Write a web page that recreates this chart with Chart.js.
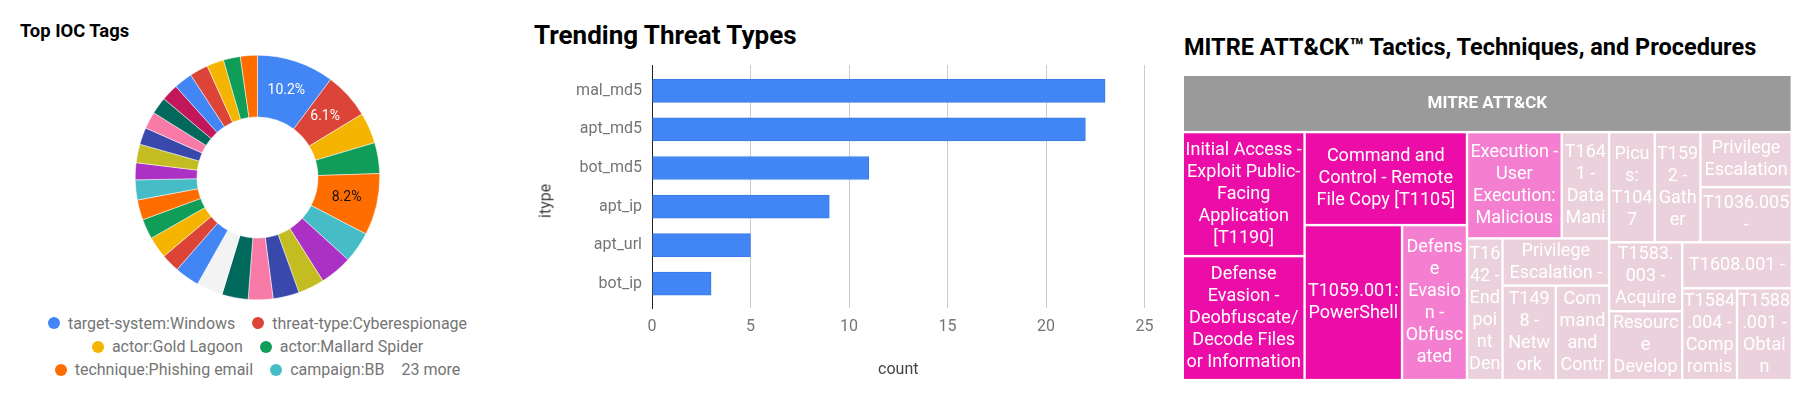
<!DOCTYPE html>
<html>
<head>
<meta charset="utf-8">
<script src="https://cdn.jsdelivr.net/npm/chart.js@4.4.1/dist/chart.umd.min.js"></script>
<style>
  html, body { margin: 0; padding: 0; background: #fff; width: 1809px; height: 399px; overflow: hidden; font-family: Roboto, "Noto Sans", sans-serif; }
  canvas { position: absolute; }
  .title { position: absolute; font-family: Roboto, sans-serif; font-weight: bold; color: #000; white-space: nowrap; line-height: 1; }
  #legend { position: absolute; left: 42.5px; top: 311.7px; width: 430px; display: flex; flex-wrap: wrap; justify-content: center; column-gap: 17px; font: 16px Roboto, sans-serif; color: #757575; }
  .li { display: flex; align-items: center; height: 23.3px; white-space: nowrap; }
  .dot { width: 12px; height: 12px; border-radius: 50%; margin-right: 8px; }
  #itype { position: absolute; left: 544.5px; top: 201px; transform: translate(-50%, -50%) rotate(-90deg); font: 16px Roboto, sans-serif; color: #444; white-space: nowrap; }
</style>
</head>
<body>
<div class="title" id="t1" style="left:20px; top:21.8px; font-size:18.4px;">Top IOC Tags</div>
<div class="title" id="t2" style="left:534px; top:22.4px; font-size:26px;">Trending Threat Types</div>
<div class="title" id="t3" style="left:1184px; top:36.3px; font-size:23.5px;">MITRE ATT&amp;CK™ Tactics, Techniques, and Procedures</div>
<canvas id="donut" width="245" height="245" style="left:135px; top:55px; width:245px; height:245px;"></canvas>
<div id="legend"></div>
<canvas id="bars" width="650" height="399" style="left:520px; top:0px; width:650px; height:399px;"></canvas>
<div id="itype">itype</div>
<canvas id="tree" width="620" height="320" style="left:1180px; top:70px; width:620px; height:320px;"></canvas>

<script>
// ---------------- DATA ----------------
const iocTags = [
  'target-system:Windows', 'threat-type:Cyberespionage', 'actor:Gold Lagoon', 'actor:Mallard Spider',
  'technique:Phishing email', 'campaign:BB', 'tag 7', 'tag 8', 'tag 9', 'tag 10', 'tag 11', 'tag 12',
  'tag 13', 'tag 14', 'tag 15', 'tag 16', 'tag 17', 'tag 18', 'tag 19', 'tag 20', 'tag 21', 'tag 22',
  'tag 23', 'tag 24', 'tag 25', 'tag 26', 'tag 27', 'tag 28', 'tag 29'
];
const iocCounts = [50, 30, 20, 20, 40, 20, 21, 17, 17, 16, 17, 17, 16, 12, 14, 13, 13, 13, 11, 12, 11, 11, 11, 11, 12, 12, 11, 11, 11];
const iocColors = [
  '#4285f4', '#db4437', '#f4b400', '#0f9d58', '#ff6d00', '#46bdc6', '#ab30c4', '#c4bd22', '#3949ab', '#f77ba6',
  '#00695c', '#f3f3f3', '#4285f4', '#db4437', '#f4b400', '#0f9d58', '#ff6d00', '#46bdc6', '#ab30c4', '#c4bd22',
  '#3949ab', '#f77ba6', '#00695c', '#c2185b', '#4285f4', '#db4437', '#f4b400', '#0f9d58', '#ff6d00'
];
const legendShown = 6;

const threatTypes = ['mal_md5', 'apt_md5', 'bot_md5', 'apt_ip', 'apt_url', 'bot_ip'];
const threatCounts = [23, 22, 11, 9, 5, 3];
const countTicks = { min: 0, max: 25, step: 5 };

const ttpRoot = 'MITRE ATT&CK';
const ttpLabels = [
  'Initial Access - Exploit Public-Facing Application [T1190]',
  'Defense Evasion - Deobfuscate/Decode Files or Information [T1140]',
  'Command and Control - Remote File Copy [T1105]',
  'T1059.001: PowerShell',
  'Defense Evasion - Obfuscated Files or Information [T1027]',
  'Execution - User Execution: Malicious File [T1204.002]',
  'T1641 - Data Manipulation',
  'T1642 - Endpoint Denial of Service',
  'Privilege Escalation - Valid Accounts [T1078]',
  'T1498 - Network Denial of Service',
  'Command and Control - Application Layer Protocol [T1071]',
  'Picus: T1047',
  'T1592 - Gather Victim Host Information',
  'Privilege Escalation - Process Injection [T1055]',
  'T1036.005 - Masquerading: Match Legitimate Name or Location',
  'T1583.003 - Acquire Infrastructure: Virtual Private Server',
  'Resource Development - Acquire Infrastructure [T1583]',
  'T1608.001 - Upload Malware',
  'T1584.004 - Compromise Infrastructure: Server',
  'T1588.001 - Obtain Capabilities: Malware'
];
const ttpValues = [3, 3, 3, 3, 2, 2, 1, 1, 1, 1, 1, 1, 1, 1, 1, 1, 1, 1, 1, 1];

// ---------------- STYLE ----------------
const FONT = 'Roboto';
Chart.defaults.font.family = FONT;
Chart.defaults.animation = false;

// ---------------- DONUT ----------------
function luminance(hex) {
  const n = parseInt(hex.slice(1), 16);
  const c = [(n >> 16) & 255, (n >> 8) & 255, n & 255].map(v => { v /= 255; return v <= 0.03928 ? v / 12.92 : Math.pow((v + 0.055) / 1.055, 2.4); });
  return 0.2126 * c[0] + 0.7152 * c[1] + 0.0722 * c[2];
}
const donutLabels = {
  id: 'donutLabels',
  afterDatasetsDraw(chart) {
    const ctx = chart.ctx;
    const ds = chart.data.datasets[0];
    const total = ds.data.reduce((a, b) => a + b, 0);
    const meta = chart.getDatasetMeta(0);
    ctx.save();
    ctx.font = '14px ' + FONT;
    ctx.textAlign = 'center';
    ctx.textBaseline = 'middle';
    meta.data.forEach((arc, i) => {
      const pct = ds.data[i] / total * 100;
      if (pct < 5) return;
      const p = arc.tooltipPosition();
      ctx.fillStyle = luminance(ds.backgroundColor[i]) > 0.3 ? '#111' : '#fff';
      ctx.fillText(pct.toFixed(1) + '%', p.x, p.y);
    });
    ctx.restore();
  }
};
new Chart(document.getElementById('donut'), {
  type: 'doughnut',
  data: { labels: iocTags, datasets: [{ data: iocCounts, backgroundColor: iocColors, borderColor: '#fff', borderWidth: 0.5 }] },
  options: {
    responsive: false, cutout: '49.5%',
    plugins: { legend: { display: false }, tooltip: { enabled: false } }
  },
  plugins: [donutLabels]
});
// HTML legend built from the data
(function () {
  const lg = document.getElementById('legend');
  for (let i = 0; i < legendShown; i++) {
    const it = document.createElement('div'); it.className = 'li';
    const d = document.createElement('span'); d.className = 'dot'; d.style.background = iocColors[i];
    const t = document.createElement('span'); t.textContent = iocTags[i];
    it.appendChild(d); it.appendChild(t); lg.appendChild(it);
  }
  const more = document.createElement('div'); more.className = 'li';
  more.textContent = (iocTags.length - legendShown) + ' more';
  lg.appendChild(more);
})();

// ---------------- BARS ----------------
new Chart(document.getElementById('bars'), {
  type: 'bar',
  data: {
    datasets: [{
      data: threatCounts.map((v, i) => ({ x: v, y: i })),
      backgroundColor: '#4285f4', borderColor: '#3b7be9', borderWidth: 1, barThickness: 23
    }]
  },
  options: {
    responsive: false, indexAxis: 'y',
    layout: { padding: { top: 65, right: 25.5, left: 0, bottom: 0 } },
    plugins: { legend: { display: false }, tooltip: { enabled: false } },
    scales: {
      x: {
        type: 'linear', min: countTicks.min, max: countTicks.max,
        ticks: { stepSize: countTicks.step, color: '#757575', font: { size: 16 }, padding: 9 },
        grid: { color: c => (c.tick && c.tick.value === 0) ? 'rgba(0,0,0,0)' : '#cccccc', drawTicks: false, lineWidth: 1 },
        border: { display: false },
        title: { display: true, text: 'count', color: '#444', font: { size: 16 }, padding: { top: 0, bottom: 19 } },
        afterFit: s => { s.height = 91; }
      },
      y: {
        type: 'linear', reverse: true, offset: false, min: -0.67, max: threatTypes.length - 0.37,
        ticks: { stepSize: 1, includeBounds: false, color: '#757575', font: { size: 16 }, padding: 10,
          callback: v => threatTypes[v] !== undefined ? threatTypes[v] : '' },
        grid: { display: false, drawTicks: false, offset: false },
        border: { display: true, color: '#222', width: 1 },
        afterFit: s => { s.width = 132; }
      }
    }
  }
});

// ---------------- TREEMAP ----------------
function lerpColor(a, b, t) {
  const pa = parseInt(a.slice(1), 16), pb = parseInt(b.slice(1), 16);
  const ch = s => [(s >> 16) & 255, (s >> 8) & 255, s & 255];
  const ca = ch(pa), cb = ch(pb);
  return 'rgb(' + ca.map((v, i) => Math.round(v + (cb[i] - v) * t)).join(',') + ')';
}
const TM = { minColor: '#ead1dc', midColor: '#f47fd0', maxColor: '#ec0ca8', headerColor: '#9a9a9a', gap: 2.4, header: 57.3, lineH: 22, fontSize: 18 };
function cellColor(v, vmin, vmax) {
  const t = vmax === vmin ? 1 : (v - vmin) / (vmax - vmin);
  return t <= 0.5 ? lerpColor(TM.minColor, TM.midColor, t * 2) : lerpColor(TM.midColor, TM.maxColor, (t - 0.5) * 2);
}
function binaryLayout(nodes, r, size, out) {
  if (nodes.length === 1) { out.push({ node: nodes[0], r }); return; }
  const total = nodes.reduce((s, n) => s + n.value, 0);
  let k = 0, acc = 0;
  while (k < nodes.length - 1 && acc + nodes[k].value < total / 2) { acc += nodes[k].value; k++; }
  if (k === 0) { k = 1; acc = nodes[0].value; }
  const f = acc / total;
  const a = nodes.slice(0, k), b = nodes.slice(k);
  const s = size(r);
  if (s.w >= s.h) {
    const xm = r.x0 + (r.x1 - r.x0) * f;
    binaryLayout(a, { x0: r.x0, y0: r.y0, x1: xm, y1: r.y1 }, size, out);
    binaryLayout(b, { x0: xm, y0: r.y0, x1: r.x1, y1: r.y1 }, size, out);
  } else {
    const ym = r.y0 + (r.y1 - r.y0) * f;
    binaryLayout(a, { x0: r.x0, y0: r.y0, x1: r.x1, y1: ym }, size, out);
    binaryLayout(b, { x0: r.x0, y0: ym, x1: r.x1, y1: r.y1 }, size, out);
  }
}
function wrapText(ctx, text, maxW) {
  // break opportunities: spaces, and after '-', '/' or '.' inside a word
  const tokens = [];
  text.split(' ').forEach((w, wi) => {
    const parts = w.match(/[^\-\/.]*[\-\/.]+|[^\-\/.]+/g) || [w];
    parts.forEach((p, pi) => tokens.push({ t: p, sp: wi > 0 && pi === 0 }));
  });
  const lines = []; let line = '';
  const fits = s => ctx.measureText(s).width <= maxW;
  tokens.forEach(tok => {
    const cand = line ? line + (tok.sp ? ' ' : '') + tok.t : tok.t;
    if (fits(cand)) { line = cand; return; }
    if (line) { lines.push(line); line = ''; }
    if (fits(tok.t)) { line = tok.t; return; }
    for (const ch of tok.t) {
      if (line && !fits(line + ch)) { lines.push(line); line = ch; } else line += ch;
    }
  });
  if (line) lines.push(line);
  return lines;
}
const treemapPlugin = {
  id: 'ttpTreemap',
  afterDraw(chart) {
    const ctx = chart.ctx, xs = chart.scales.x, ys = chart.scales.y;
    const px = v => xs.getPixelForValue(v), py = v => ys.getPixelForValue(v);
    const size = r => ({ w: px(r.x1) - px(r.x0), h: py(r.y1) - py(r.y0) });
    const hf = TM.header / (py(1) - py(0));
    ctx.save();
    // root header
    const hx0 = px(0), hy0 = py(0), hw = px(1) - px(0) - TM.gap, hh = py(hf) - py(0) - TM.gap;
    ctx.fillStyle = TM.headerColor; ctx.fillRect(hx0, hy0, hw, hh);
    ctx.fillStyle = '#fff'; ctx.font = 'bold 17px ' + FONT; ctx.textAlign = 'center'; ctx.textBaseline = 'middle';
    ctx.fillText(ttpRoot, hx0 + hw / 2, hy0 + hh / 2);
    // leaves
    const nodes = ttpLabels.map((l, i) => ({ label: l, value: ttpValues[i] }));
    const vmin = Math.min(...ttpValues), vmax = Math.max(...ttpValues);
    const out = [];
    binaryLayout(nodes, { x0: 0, y0: hf, x1: 1, y1: 1 }, size, out);
    ctx.font = TM.fontSize + 'px ' + FONT;
    out.forEach(({ node, r }) => {
      const x0 = px(r.x0), y0 = py(r.y0);
      const w = px(r.x1) - x0 - TM.gap, h = py(r.y1) - y0 - TM.gap;
      ctx.fillStyle = cellColor(node.value, vmin, vmax);
      ctx.fillRect(x0, y0, w, h);
      ctx.save();
      ctx.beginPath(); ctx.rect(x0, y0, w, h); ctx.clip();
      const lines = wrapText(ctx, node.label, w - 1);
      const n = Math.min(lines.length, Math.floor(h / TM.lineH));
      ctx.fillStyle = '#fff';
      for (let i = 0; i < n; i++) ctx.fillText(lines[i], x0 + w / 2, y0 + h / 2 + (i - (n - 1) / 2) * TM.lineH);
      ctx.restore();
    });
    ctx.restore();
  }
};
new Chart(document.getElementById('tree'), {
  type: 'scatter',
  data: { datasets: [{ data: [] }] },
  options: {
    responsive: false,
    layout: { padding: { left: 4, top: 6, right: 7, bottom: 8.7 } },
    plugins: { legend: { display: false }, tooltip: { enabled: false } },
    scales: {
      x: { type: 'linear', min: 0, max: 1, display: false },
      y: { type: 'linear', min: 0, max: 1, reverse: true, display: false }
    }
  },
  plugins: [treemapPlugin]
});
</script>
</body>
</html>
